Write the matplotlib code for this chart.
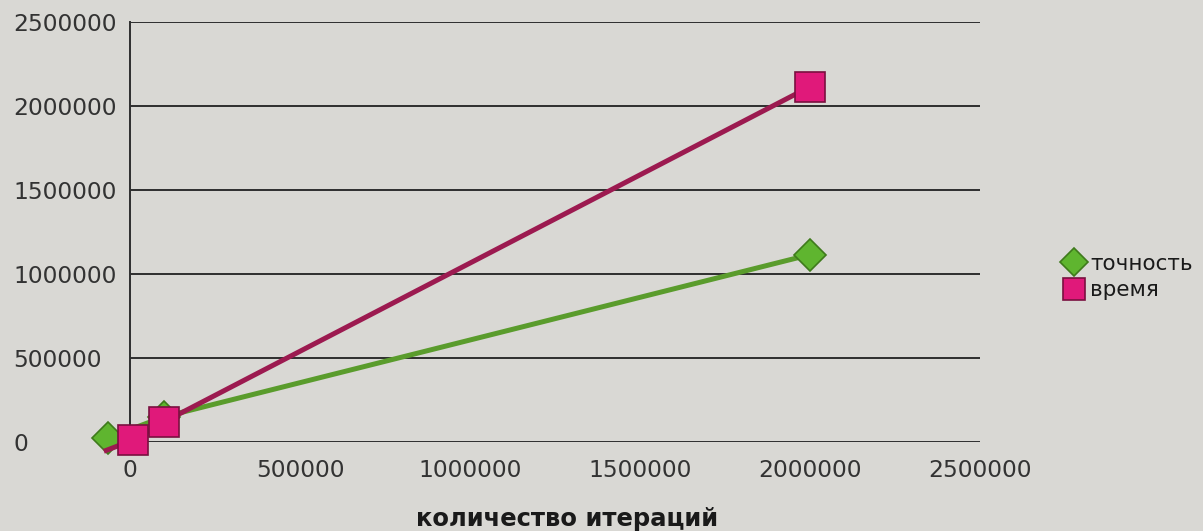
import matplotlib
matplotlib.use("Agg")
import matplotlib.pyplot as plt
from matplotlib.lines import Line2D

plt.rcParams['font.family'] = ['DejaVu Sans']

# iterations vs. accuracy / time
x_accuracy = [-65000, 100000, 2000000]
y_accuracy = [25000, 150000, 1115000]
x_time = [-70000, 10000, 100000, 2000000]
y_time = [-50000, 12000, 120000, 2115000]

x_ticks = [0, 500000, 1000000, 1500000, 2000000, 2500000]
y_ticks = [0, 500000, 1000000, 1500000, 2000000, 2500000]
series_names = ["точность", "время"]
x_title = "количество итераций"

bg = "#d9d8d4"
fig = plt.figure(figsize=(12.03, 5.31), dpi=100, facecolor=bg)
ax = fig.add_axes([130 / 1203, 1 - 442 / 531, 850 / 1203, 420 / 531], facecolor=bg)

ax.set_xlim(0, 2500000)
ax.set_ylim(0, 2500000)

for yv in y_ticks:
    ax.axhline(yv, color="#2e2e2e", lw=1.4, zorder=1)

green_line = "#5a9c2c"
green_face = "#5fb52f"
green_edge = "#3f7a1c"
pink_line = "#9c1a50"
pink_face = "#e0197a"
pink_edge = "#7a1040"

ax.plot(x_accuracy, y_accuracy, color=green_line, lw=3.6, marker="D", ms=16.5,
        mfc=green_face, mec=green_edge, mew=1.2, clip_on=False, zorder=3)
ax.plot(x_time, y_time, color=pink_line, lw=3.6, marker="s", ms=21,
        mfc=pink_face, mec=pink_edge, mew=1.2, markevery=[1, 2, 3],
        clip_on=False, zorder=4)

for s in ["top", "right", "bottom"]:
    ax.spines[s].set_visible(False)
ax.spines["left"].set_color("#2e2e2e")
ax.spines["left"].set_linewidth(1.4)

ax.set_xticks(x_ticks)
ax.set_xticklabels([str(v) for v in x_ticks])
ax.set_yticks(y_ticks)
ax.set_yticklabels([str(v) for v in y_ticks])
ax.tick_params(axis="both", length=0, labelsize=16.8, labelcolor="#333333")
ax.tick_params(axis="x", pad=12)
ax.tick_params(axis="y", pad=84)
for lbl in ax.get_yticklabels():
    lbl.set_horizontalalignment("left")

ax.set_xlabel(x_title, fontsize=17.5, fontweight="bold", color="#1a1a1a",
              verticalalignment="center")
ax.xaxis.set_label_coords(0.514, -0.183)

handles = [
    Line2D([], [], ls="none", marker="D", ms=14, mfc=green_face, mec=green_edge, mew=1.2),
    Line2D([], [], ls="none", marker="s", ms=16, mfc=pink_face, mec=pink_edge, mew=1.2),
]
fig.legend(handles, series_names, loc="center left", bbox_to_anchor=(1057 / 1203, 1 - 277 / 531),
           frameon=False, fontsize=15.5, handlelength=0.8, handletextpad=0.35,
           labelspacing=0.3, borderaxespad=0, labelcolor="#1a1a1a")

fig.savefig("out.png", dpi=100, facecolor=bg)
